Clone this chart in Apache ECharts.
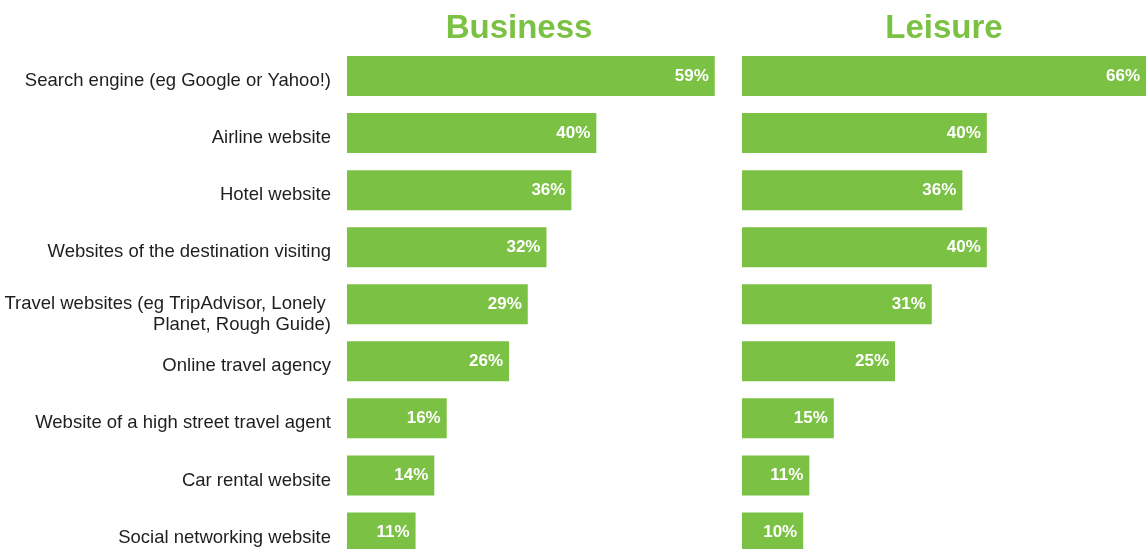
<!DOCTYPE html>
<html>
<head>
<meta charset="utf-8">
<script src="https://cdn.jsdelivr.net/npm/echarts@6/dist/echarts.min.js"></script>
<style>
  html, body { margin: 0; padding: 0; background: #ffffff; overflow: hidden; }
  /* canvas is a little taller than the view: the last row runs past the bottom edge */
  #chart { width: 1146px; height: 562px; }
</style>
</head>
<body>
<div id="chart"></div>
<script>
// Online sources used when planning a trip, business vs leisure travellers (%)
const categories = [
  "Search engine (eg Google or Yahoo!)",
  "Airline website",
  "Hotel website",
  "Websites of the destination visiting",
  "Travel websites (eg TripAdvisor, Lonely \nPlanet, Rough Guide)",
  "Online travel agency",
  "Website of a high street travel agent",
  "Car rental website",
  "Social networking website"
];
const businessValues = [59, 40, 36, 32, 29, 26, 16, 14, 11];
const leisureValues = [66, 40, 36, 40, 31, 25, 15, 11, 10];
const panelTitles = ["Business", "Leisure"];

const GREEN = '#7bc143';
const FONT = 'Liberation Sans, Arial, sans-serif';

const chart = echarts.init(document.getElementById('chart'), null, { renderer: 'canvas' });

const barLabel = {
  show: true,
  position: 'insideRight',
  distance: 6,
  color: '#ffffff',
  fontFamily: FONT,
  fontWeight: 'bold',
  fontSize: 17,
  formatter: p => p.value + '%'
};

// Category labels sit slightly below the bar centre: an empty spacer line
// above the text pushes it down (a taller spacer for two-line labels).
function categoryLabel(value) {
  const lines = value.split('\n');
  const spacer = lines.length > 1 ? '{s2| }' : '{s1| }';
  return [spacer].concat(lines.map(l => '{t|' + l + '}')).join('\n');
}

const rowTop = 47.5;
const rowBottom = 1;

chart.setOption({
  backgroundColor: '#ffffff',
  animation: false,
  title: [
    {
      text: panelTitles[0], left: 519, top: 12, padding: 0, textAlign: 'center',
      textStyle: { color: GREEN, fontFamily: FONT, fontWeight: 'bold', fontSize: 33 }
    },
    {
      text: panelTitles[1], left: 944, top: 12, padding: 0, textAlign: 'center',
      textStyle: { color: GREEN, fontFamily: FONT, fontWeight: 'bold', fontSize: 33 }
    }
  ],
  grid: [
    { left: 347, top: rowTop, width: 374, bottom: rowBottom, containLabel: false },
    { left: 742, top: rowTop, width: 405, bottom: rowBottom, containLabel: false }
  ],
  xAxis: [
    { type: 'value', gridIndex: 0, min: 0, max: 60, show: false },
    { type: 'value', gridIndex: 1, min: 0, max: 66, show: false }
  ],
  yAxis: [
    {
      type: 'category', gridIndex: 0, data: categories, inverse: true,
      axisLine: { show: false }, axisTick: { show: false }, splitLine: { show: false },
      axisLabel: {
        margin: 16, color: '#1e1e1e', fontFamily: FONT, fontSize: 18.5,
        align: 'right',
        formatter: categoryLabel,
        rich: {
          s1: { fontSize: 1, lineHeight: 10 },
          s2: { fontSize: 1, lineHeight: 20 },
          t: { color: '#1e1e1e', fontFamily: FONT, fontSize: 18.5, lineHeight: 21, align: 'right' }
        }
      }
    },
    {
      type: 'category', gridIndex: 1, data: categories, inverse: true,
      axisLine: { show: false }, axisTick: { show: false }, splitLine: { show: false },
      axisLabel: { show: false }
    }
  ],
  series: [
    {
      name: panelTitles[0], type: 'bar', xAxisIndex: 0, yAxisIndex: 0,
      data: businessValues, barWidth: 40,
      itemStyle: { color: GREEN }, label: barLabel
    },
    {
      name: panelTitles[1], type: 'bar', xAxisIndex: 1, yAxisIndex: 1,
      data: leisureValues, barWidth: 40,
      itemStyle: { color: GREEN }, label: barLabel
    }
  ]
});
</script>
</body>
</html>
